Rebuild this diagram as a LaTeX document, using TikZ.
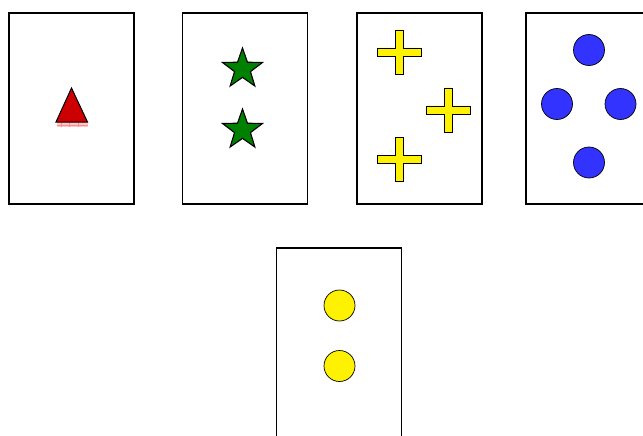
\documentclass[tikz,border=0pt]{standalone}
\usepackage{tikz}
\usetikzlibrary{shapes.geometric, positioning}
\usepackage{xcolor}

\definecolor{cardblue}{HTML}{3333FF}
\definecolor{cardred}{HTML}{CC0000}
\definecolor{cardgreen}{HTML}{008000}

\begin{document}
\begin{tikzpicture}[
    x=1pt, y=-1pt,
    card/.style={rectangle, draw, line width=1.3pt, fill=white, minimum width=125pt, minimum height=191pt, inner sep=0pt},
    dot/.style={circle, draw, line width=0.7pt, inner sep=0pt, minimum size=31pt},
    starsign/.style={star, star points=5, star point ratio=2.5, draw, line width=1.1pt, fill=cardgreen, inner sep=0pt, minimum size=42pt},
    plussign/.pic={
        \filldraw[fill=yellow, draw=black, line width=0.8pt]
            (-4,-22) -- (4,-22) -- (4,-4) -- (22,-4) -- (22,4) -- (4,4) -- (4,22)
            -- (-4,22) -- (-4,4) -- (-22,4) -- (-22,-4) -- (-4,-4) -- cycle;
    }
]
    \useasboundingbox (0,0) rectangle (643,436);
    \clip (0,0) rectangle (643,436);

    % Cards
    \node (card1) [card] at (71.5,108.5) {};
    \node (card2) [card] at (245,108.5) {};
    \node (card3) [card] at (419.5,108.5) {};
    \node (card4) [card] at (588.5,108.5) {};
    \node (card5) [card] at (339,343.5) {};

    % Card 1: triangle
    \fill[red!22] (56.5,122) rectangle (88,127);
    \draw[red!45, line width=0.5pt] (61,122) -- (61,127) (69.5,122) -- (69.5,127) (78,122) -- (78,127) (56.5,125) -- (88,125);
    \filldraw[fill=cardred, draw=black, line width=1pt] (71.5,88) -- (87.5,122) -- (56,122) -- cycle;

    % Card 2: stars
    \node (star1) [starsign] at (242.5,69) {};
    \node (star2) [starsign] at (242.5,130) {};

    % Card 3: crosses
    \pic (plus1) at (399,52) {plussign};
    \pic (plus2) at (448,110) {plussign};
    \pic (plus3) at (399,159.5) {plussign};

    % Card 4: blue dots
    \node (blue1) [dot, fill=cardblue] at (589,50) {};
    \node (blue2) [dot, fill=cardblue] at (557,104) {};
    \node (blue3) [dot, fill=cardblue] at (620.5,104) {};
    \node (blue4) [dot, fill=cardblue] at (589,162.5) {};

    % Card 5: yellow dots
    \node (yellow1) [dot, fill=yellow] at (339.5,305.5) {};
    \node (yellow2) [dot, fill=yellow] at (339.5,366) {};
\end{tikzpicture}
\end{document}
